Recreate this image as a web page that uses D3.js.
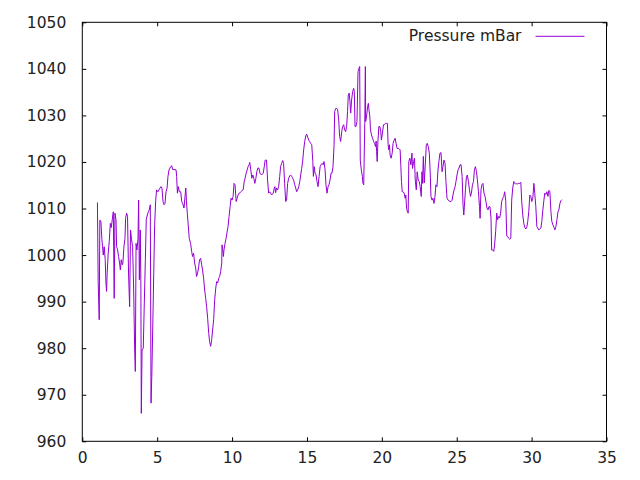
<!DOCTYPE html>
<html>
<head>
<meta charset="utf-8">
<script src="https://cdn.jsdelivr.net/npm/d3@7"></script>
<style>
  body { margin: 0; background: #fff; }
  #chart text { font-family: "DejaVu Sans", sans-serif; font-size: 15.5px; fill: #222; }
</style>
</head>
<body>
<div id="chart"></div>
<script>
// day of month (fractional)
const days = [
  1.01, 1.06, 1.13, 1.17, 1.24, 1.31, 1.35, 1.40, 1.46, 1.53, 1.58, 1.62, 1.66, 1.73, 1.80, 1.87, 1.93, 2.00, 2.07, 2.13,
  2.18, 2.25, 2.29, 2.36, 2.42, 2.49, 2.54, 2.60, 2.67, 2.71, 2.78, 2.85, 2.89, 2.96, 3.02, 3.09, 3.16, 3.22, 3.29, 3.36,
  3.43, 3.49, 3.54, 3.59, 3.65, 3.72, 3.76, 3.81, 3.87, 3.91, 3.94, 3.99, 4.07, 4.14, 4.21, 4.27, 4.34, 4.41, 4.47, 4.54,
  4.56, 4.59, 4.64, 4.70, 4.77, 4.83, 4.90, 4.96, 5.05, 5.12, 5.19, 5.25, 5.32, 5.39, 5.46, 5.52, 5.59, 5.66, 5.72, 5.79,
  5.85, 5.97, 6.03, 6.26, 6.30, 6.35, 6.41, 6.48, 6.57, 6.64, 6.70, 6.79, 6.86, 6.91, 6.95, 7.01, 7.07, 7.14, 7.23, 7.30,
  7.36, 7.43, 7.50, 7.57, 7.63, 7.70, 7.77, 7.83, 7.90, 7.97, 8.03, 8.10, 8.17, 8.24, 8.30, 8.37, 8.44, 8.50, 8.57, 8.64,
  8.70, 8.77, 8.84, 8.91, 8.97, 9.04, 9.11, 9.17, 9.24, 9.31, 9.33, 9.38, 9.42, 9.46, 9.53, 9.60, 9.67, 9.73, 9.80, 9.87,
  9.93, 10.00, 10.07, 10.13, 10.20, 10.27, 10.34, 10.40, 10.47, 10.54, 10.60, 10.67, 10.74, 10.81, 10.87, 10.94, 11.01, 11.07, 11.14, 11.18,
  11.25, 11.32, 11.39, 11.45, 11.52, 11.59, 11.65, 11.72, 11.79, 11.86, 11.97, 12.08, 12.15, 12.21, 12.30, 12.37, 12.44, 12.51, 12.57, 12.64,
  12.75, 12.82, 12.86, 12.91, 12.97, 13.04, 13.11, 13.18, 13.24, 13.31, 13.38, 13.44, 13.51, 13.58, 13.64, 13.71, 13.78, 13.85, 13.91, 13.98,
  14.05, 14.11, 14.18, 14.25, 14.31, 14.38, 14.45, 14.52, 14.58, 14.65, 14.72, 14.78, 14.85, 14.92, 14.98, 15.05, 15.12, 15.18, 15.25, 15.32,
  15.39, 15.43, 15.48, 15.54, 15.61, 15.67, 15.74, 15.81, 15.88, 15.94, 16.01, 16.08, 16.14, 16.21, 16.27, 16.34, 16.41, 16.47, 16.54, 16.61,
  16.67, 16.74, 16.81, 16.85, 16.92, 16.99, 17.05, 17.12, 17.18, 17.25, 17.32, 17.38, 17.45, 17.52, 17.58, 17.65, 17.71, 17.76, 17.82, 17.87,
  17.92, 17.98, 18.05, 18.12, 18.16, 18.21, 18.27, 18.34, 18.41, 18.47, 18.52, 18.56, 18.63, 18.70, 18.74, 18.79, 18.86, 18.90, 18.92, 18.99,
  19.05, 19.10, 19.14, 19.20, 19.24, 19.31, 19.38, 19.45, 19.51, 19.58, 19.62, 19.65, 19.69, 19.74, 19.80, 19.87, 19.93, 19.97, 20.04, 20.11,
  20.17, 20.24, 20.31, 20.37, 20.42, 20.46, 20.51, 20.55, 20.62, 20.69, 20.75, 20.82, 20.89, 20.95, 21.02, 21.09, 21.16, 21.22, 21.27, 21.31,
  21.36, 21.42, 21.49, 21.56, 21.60, 21.65, 21.71, 21.76, 21.80, 21.87, 21.94, 22.01, 22.05, 22.12, 22.18, 22.23, 22.30, 22.36, 22.43, 22.50,
  22.56, 22.63, 22.68, 22.72, 22.77, 22.83, 22.90, 22.97, 23.03, 23.10, 23.17, 23.23, 23.28, 23.35, 23.41, 23.48, 23.55, 23.61, 23.68, 23.75,
  23.81, 23.88, 23.95, 24.02, 24.08, 24.15, 24.22, 24.28, 24.35, 24.42, 24.48, 24.55, 24.62, 24.69, 24.75, 24.82, 24.89, 24.95, 25.02, 25.09,
  25.15, 25.22, 25.29, 25.36, 25.42, 25.47, 25.51, 25.58, 25.65, 25.71, 25.78, 25.85, 25.92, 25.98, 26.05, 26.12, 26.18, 26.25, 26.32, 26.38,
  26.45, 26.52, 26.56, 26.62, 26.68, 26.75, 26.82, 26.89, 26.95, 27.02, 27.09, 27.15, 27.22, 27.29, 27.33, 27.40, 27.47, 27.53, 27.60, 27.67,
  27.73, 27.80, 27.87, 27.93, 28.00, 28.07, 28.14, 28.20, 28.27, 28.34, 28.40, 28.47, 28.54, 28.61, 28.67, 28.74, 28.81, 28.87, 28.94, 29.01,
  29.07, 29.14, 29.21, 29.28, 29.34, 29.41, 29.48, 29.54, 29.61, 29.68, 29.74, 29.81, 29.88, 29.95, 30.01, 30.08, 30.15, 30.21, 30.28, 30.35,
  30.41, 30.48, 30.55, 30.62, 30.68, 30.75, 30.82, 30.88, 30.95, 31.02, 31.09, 31.15, 31.22, 31.29, 31.35, 31.42, 31.49, 31.55, 31.62, 31.69,
  31.76, 31.82, 31.89, 31.96, 32.02
];

// pressure in mBar, one per day entry
const pressure = [
  1011.3, 994.3, 986.1, 1007.5, 1007.3, 1003.3, 1001.8, 1000.0, 1001.8, 999.0, 994.0, 992.2, 996.1, 1000.4, 1002.9, 1006.8, 1005.9, 1007.6, 1009.3, 990.7,
  1009.0, 1007.6, 1001.8, 1001.1, 999.7, 998.3, 996.8, 999.0, 997.9, 998.3, 1001.8, 1003.6, 1007.9, 1009.0, 1008.3, 995.7, 988.9, 1005.4, 1003.3, 1001.8,
  992.5, 980.7, 975.0, 1002.5, 1001.1, 1003.6, 1011.8, 994.7, 1005.4, 994.0, 966.0, 979.6, 980.0, 989.7, 999.0, 1007.6, 1008.6, 1009.3, 1009.7, 1010.8,
  994.0, 968.2, 973.9, 983.9, 996.1, 1006.5, 1011.8, 1014.0, 1013.6, 1014.0, 1014.4, 1014.7, 1014.4, 1011.5, 1010.8, 1011.1, 1013.6, 1014.4, 1016.9, 1018.3,
  1018.7, 1019.2, 1018.4, 1018.3, 1016.9, 1013.3, 1014.7, 1013.6, 1013.6, 1011.5, 1011.1, 1010.1, 1012.6, 1014.4, 1011.8, 1009.0, 1006.5, 1003.6, 1002.5, 1000.8,
  999.7, 1000.4, 998.3, 997.2, 995.4, 996.1, 997.5, 999.0, 999.3, 997.9, 996.8, 995.0, 992.5, 990.7, 988.9, 986.4, 983.2, 981.4, 980.4, 981.8,
  983.9, 986.1, 990.4, 992.9, 994.3, 994.0, 995.0, 995.4, 996.5, 998.3, 1002.2, 1001.1, 999.7, 1001.1, 1002.5, 1003.6, 1005.0, 1006.1, 1008.3, 1010.4,
  1012.2, 1011.8, 1012.6, 1015.4, 1015.1, 1011.5, 1012.2, 1012.9, 1013.3, 1013.4, 1013.6, 1013.9, 1014.0, 1015.8, 1016.5, 1017.6, 1018.3, 1019.0, 1019.4, 1019.9,
  1018.3, 1016.5, 1017.2, 1016.5, 1015.4, 1016.5, 1017.9, 1018.7, 1018.7, 1017.6, 1017.2, 1017.6, 1019.0, 1020.4, 1020.4, 1016.1, 1013.3, 1013.6, 1013.3, 1012.9,
  1013.3, 1014.4, 1014.7, 1013.4, 1014.4, 1014.0, 1014.7, 1016.9, 1019.0, 1019.7, 1020.3, 1019.7, 1015.4, 1011.5, 1011.8, 1015.4, 1016.5, 1017.0, 1017.2, 1016.9,
  1016.5, 1016.1, 1015.1, 1014.4, 1013.6, 1014.0, 1014.7, 1015.8, 1017.2, 1018.6, 1020.4, 1022.6, 1024.4, 1025.6, 1026.0, 1025.3, 1024.7, 1024.4, 1024.0, 1023.7,
  1020.1, 1016.9, 1019.0, 1017.6, 1017.2, 1015.8, 1014.7, 1016.9, 1019.0, 1019.4, 1019.7, 1019.4, 1020.1, 1018.3, 1015.1, 1013.3, 1014.7, 1015.1, 1016.1, 1017.6,
  1017.6, 1019.0, 1023.7, 1030.8, 1031.5, 1031.5, 1031.2, 1029.0, 1025.5, 1024.4, 1026.5, 1027.6, 1028.0, 1026.9, 1026.5, 1027.6, 1030.8, 1034.4, 1034.8, 1033.0,
  1030.5, 1033.3, 1035.1, 1035.8, 1035.1, 1027.6, 1027.6, 1028.7, 1039.4, 1040.1, 1040.5, 1020.4, 1018.3, 1016.9, 1015.4, 1015.1, 1028.3, 1040.5, 1028.7, 1030.1,
  1031.9, 1032.6, 1031.2, 1029.7, 1026.9, 1025.8, 1025.1, 1024.4, 1024.0, 1023.3, 1024.5, 1022.2, 1020.1, 1024.5, 1027.6, 1027.6, 1026.5, 1024.7, 1026.2, 1028.0,
  1028.0, 1028.3, 1028.3, 1028.3, 1023.7, 1022.6, 1023.7, 1021.5, 1020.8, 1021.9, 1024.0, 1024.7, 1025.1, 1024.0, 1022.9, 1022.9, 1022.8, 1022.6, 1019.0, 1015.8,
  1013.6, 1013.6, 1013.3, 1012.2, 1012.9, 1010.1, 1009.3, 1009.0, 1020.1, 1020.8, 1019.4, 1021.9, 1018.6, 1020.1, 1020.8, 1016.1, 1014.0, 1017.9, 1016.1, 1015.8,
  1014.7, 1012.6, 1017.9, 1015.4, 1021.2, 1015.5, 1019.4, 1023.7, 1024.0, 1023.3, 1021.9, 1017.6, 1012.6, 1011.8, 1012.2, 1011.1, 1012.6, 1015.1, 1014.7, 1018.3,
  1020.1, 1021.9, 1022.0, 1017.9, 1019.0, 1020.4, 1019.7, 1015.8, 1012.2, 1011.8, 1011.7, 1011.5, 1011.5, 1011.8, 1012.9, 1014.0, 1014.7, 1015.8, 1017.2, 1018.3,
  1018.7, 1019.4, 1019.4, 1016.9, 1010.8, 1008.6, 1010.4, 1014.0, 1016.9, 1017.2, 1015.8, 1014.0, 1012.6, 1013.3, 1015.1, 1015.8, 1018.3, 1019.0, 1017.9, 1016.1,
  1013.6, 1010.4, 1007.9, 1014.0, 1015.1, 1015.4, 1013.3, 1012.6, 1011.5, 1010.1, 1009.7, 1010.4, 1010.4, 1007.9, 1001.1, 1001.1, 1000.8, 1002.2, 1005.1, 1009.0,
  1007.6, 1008.3, 1008.0, 1009.0, 1011.5, 1012.2, 1012.6, 1013.6, 1011.8, 1004.1, 1004.0, 1003.6, 1003.4, 1003.6, 1011.8, 1014.4, 1015.8, 1015.4, 1015.3, 1015.3,
  1015.3, 1015.4, 1015.4, 1015.6, 1011.5, 1008.6, 1006.8, 1006.0, 1005.6, 1006.0, 1007.2, 1009.3, 1012.9, 1012.6, 1011.5, 1012.2, 1015.4, 1013.3, 1010.4, 1006.1,
  1005.8, 1005.4, 1005.6, 1005.8, 1007.2, 1009.7, 1011.8, 1013.3, 1013.0, 1013.6, 1012.6, 1013.9, 1013.7, 1009.3, 1007.2, 1006.5, 1006.0, 1005.4, 1006.1, 1007.6,
  1009.3, 1009.7, 1011.1, 1011.7, 1011.9
];

const xTicks = [0, 5, 10, 15, 20, 25, 30, 35];
const yTicks = [960, 970, 980, 990, 1000, 1010, 1020, 1030, 1040, 1050];
const seriesName = 'Pressure mBar';

const margin = { top: 22.3, right: 33.5, bottom: 38.7, left: 82.3 };
const width = 640 - margin.left - margin.right;
const height = 480 - margin.top - margin.bottom;

const x = d3.scaleLinear().domain([0, 35]).range([0, width]);
const y = d3.scaleLinear().domain([960, 1050]).range([height, 0]);

const svg = d3.select('#chart')
  .append('svg')
  .attr('width', 640)
  .attr('height', 480)
  .append('g')
  .attr('transform', `translate(${margin.left},${margin.top})`);

// ticks point inward, mirrored on top and right like gnuplot
svg.append('g')
  .attr('transform', `translate(0,${height})`)
  .call(d3.axisBottom(x).tickValues(xTicks).tickSize(-4).tickPadding(11).tickSizeOuter(0).tickFormat(d3.format('d')));
svg.append('g')
  .call(d3.axisLeft(y).tickValues(yTicks).tickSize(-4).tickPadding(16).tickSizeOuter(0).tickFormat(d3.format('d')));
svg.append('g')
  .call(d3.axisTop(x).tickValues(xTicks).tickSize(-4).tickSizeOuter(0).tickFormat(''));
svg.append('g')
  .attr('transform', `translate(${width},0)`)
  .call(d3.axisRight(y).tickValues(yTicks).tickSize(-4).tickSizeOuter(0).tickFormat(''));

svg.selectAll('.domain').remove();
svg.selectAll('.tick line').attr('stroke', '#000');
svg.selectAll('.tick text').attr('fill', '#222').style('font-size', '15.5px');

svg.append('rect')
  .attr('width', width)
  .attr('height', height)
  .attr('fill', 'none')
  .attr('stroke', '#000')
  .attr('stroke-width', 1);

const data = days.map((d, i) => ({ day: d, p: pressure[i] }));

const line = d3.line()
  .x(d => x(d.day))
  .y(d => y(d.p));

svg.append('path')
  .datum(data)
  .attr('fill', 'none')
  .attr('stroke', '#9400d3')
  .attr('stroke-width', 1)
  .attr('d', line);

// legend
const legend = svg.append('g').attr('transform', `translate(${width},0)`);
legend.append('text')
  .attr('x', -85)
  .attr('y', 13)
  .attr('dy', '0.35em')
  .attr('text-anchor', 'end')
  .text(seriesName);
legend.append('line')
  .attr('x1', -71)
  .attr('x2', -22)
  .attr('y1', 14)
  .attr('y2', 14)
  .attr('stroke', '#9400d3')
  .attr('stroke-width', 1);
</script>
</body>
</html>
